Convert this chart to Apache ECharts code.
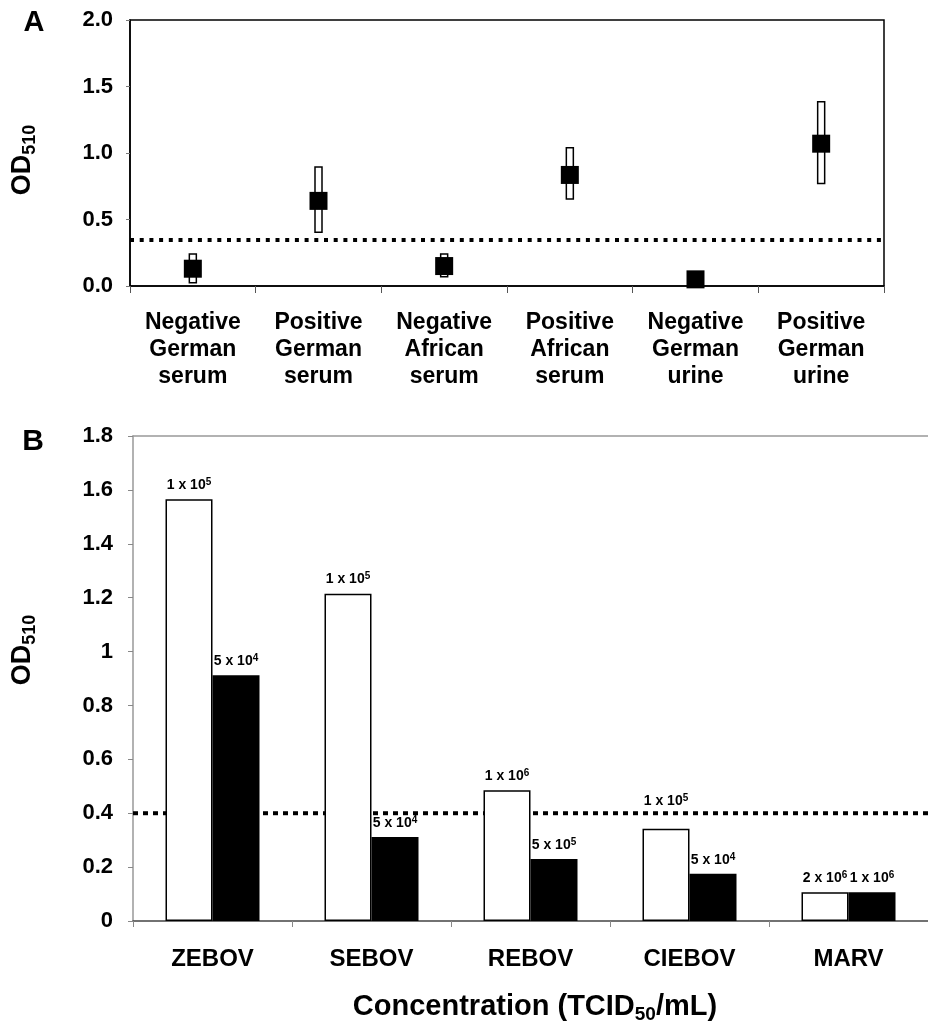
<!DOCTYPE html>
<html>
<head>
<meta charset="utf-8">
<script src="https://cdn.jsdelivr.net/npm/echarts@6/dist/echarts.min.js"></script>
<style>
html,body{margin:0;padding:0;background:#fff;}
#chart{width:928px;height:1028px;}
</style>
</head>
<body>
<div id="chart"></div>
<script>
// ---------- Panel A data ----------
const categoriesA = ['Negative\nGerman\nserum', 'Positive\nGerman\nserum', 'Negative\nAfrican\nserum',
                     'Positive\nAfrican\nserum', 'Negative\nGerman\nurine', 'Positive\nGerman\nurine'];
const meanA = [0.13, 0.64, 0.15, 0.835, 0.05, 1.07];
const lowA  = [0.025, 0.405, 0.07, 0.655, 0.03, 0.77];
const highA = [0.24, 0.895, 0.24, 1.04, 0.07, 1.385];
const cutoffA = 0.345;
const yTicksA = { min: 0, max: 2.0, interval: 0.5 };

// ---------- Panel B data ----------
const categoriesB = ['ZEBOV', 'SEBOV', 'REBOV', 'CIEBOV', 'MARV'];
const highDoseB = [1.565, 1.215, 0.485, 0.342, 0.107];
const lowDoseB  = [0.912, 0.312, 0.230, 0.175, 0.107];
const highDoseLabels = ['1 x 10^5', '1 x 10^5', '1 x 10^6', '1 x 10^5', '2 x 10^6'];
const lowDoseLabels  = ['5 x 10^4', '5 x 10^4', '5 x 10^5', '5 x 10^4', '1 x 10^6'];
const cutoffB = 0.4;
const yTicksB = { min: 0, max: 1.8, interval: 0.2 };

const FONT = '"Liberation Sans", Arial, Helvetica, sans-serif';
const GRID_B_HEIGHT = 485;
const PX_PER_UNIT_B = GRID_B_HEIGHT / (yTicksB.max - yTicksB.min);

function supLabel(arr) {
  return function (p) {
    const s = arr[p.dataIndex];
    const m = s.match(/^(.*)\^(\d+)$/);
    return m ? '{n|' + m[1] + '}{s|' + m[2] + '}' : '{n|' + s + '}';
  };
}
const barLabelRich = {
  n: { fontFamily: FONT, fontWeight: 'bold', fontSize: 14, lineHeight: 16, color: '#000' },
  s: { fontFamily: FONT, fontWeight: 'bold', fontSize: 10, lineHeight: 6, verticalAlign: 'top', color: '#000' }
};
// labels of bars that end just under the cutoff line are lifted above it
function barItems(values) {
  return values.map(v => {
    const d = cutoffB - v;
    if (d > 0 && d < 0.07) {
      return { value: v, label: { distance: d * PX_PER_UNIT_B + 4 } };
    }
    return v;
  });
}

const chart = echarts.init(document.getElementById('chart'), null, { renderer: 'canvas' });

const option = {
  animation: false,
  backgroundColor: '#fff',
  grid: [
    { left: 130, top: 20, width: 754, height: 266, show: true, borderColor: '#000', borderWidth: 1.5, backgroundColor: 'transparent' },
    { left: 133, top: 436, width: 805, height: GRID_B_HEIGHT }
  ],
  xAxis: [
    { // 0: panel A categories
      type: 'category', gridIndex: 0, data: categoriesA,
      axisLine: { lineStyle: { color: '#000', width: 1.5 } },
      axisTick: { show: true, length: 7, lineStyle: { color: '#555', width: 1 } },
      axisLabel: { fontFamily: FONT, fontWeight: 'bold', fontSize: 23, lineHeight: 27, color: '#000', margin: 23, interval: 0 }
    },
    { // 1: panel B categories
      type: 'category', gridIndex: 1, data: categoriesB,
      axisLine: { lineStyle: { color: '#444', width: 1.5 } },
      axisTick: { show: true, length: 6, lineStyle: { color: '#888', width: 1 } },
      axisLabel: { fontFamily: FONT, fontWeight: 'bold', fontSize: 24, lineHeight: 24, color: '#000', margin: 26, interval: 0 }
    },
    { // 2: panel B helper value axis (top frame line)
      type: 'value', gridIndex: 1, position: 'top', min: 0, max: 1,
      axisLine: { show: true, lineStyle: { color: '#999', width: 1.5 } },
      axisTick: { show: false }, axisLabel: { show: false }, splitLine: { show: false }
    },
    { // 3: panel A helper value axis
      type: 'value', gridIndex: 0, position: 'top', min: 0, max: 1, show: false
    }
  ],
  yAxis: [
    {
      type: 'value', gridIndex: 0, min: yTicksA.min, max: yTicksA.max, interval: yTicksA.interval,
      axisLine: { show: true, lineStyle: { color: '#000', width: 1.5 } },
      axisTick: { show: true, length: 4, lineStyle: { color: '#777' } },
      splitLine: { show: false },
      axisLabel: { fontFamily: FONT, fontWeight: 'bold', fontSize: 22, color: '#000', margin: 17,
                   formatter: v => v.toFixed(1) }
    },
    {
      type: 'value', gridIndex: 1, min: yTicksB.min, max: yTicksB.max, interval: yTicksB.interval,
      axisLine: { show: true, lineStyle: { color: '#999', width: 1.5 } },
      axisTick: { show: true, length: 5, lineStyle: { color: '#888' } },
      splitLine: { show: false },
      axisLabel: { fontFamily: FONT, fontWeight: 'bold', fontSize: 22, color: '#000', margin: 20 }
    }
  ],
  series: [
    { // cutoff A
      type: 'line', xAxisIndex: 3, yAxisIndex: 0, z: 1, silent: true, symbol: 'none',
      data: [[0, cutoffA], [1, cutoffA]],
      lineStyle: { color: '#000', width: 4, type: [4, 5.7] }
    },
    { // error ranges A
      type: 'custom', xAxisIndex: 0, yAxisIndex: 0, z: 2, silent: true,
      data: lowA.map((l, i) => [i, l, highA[i]]),
      renderItem: function (params, api) {
        const lo = api.coord([api.value(0), api.value(1)]);
        const hi = api.coord([api.value(0), api.value(2)]);
        return {
          type: 'rect',
          shape: { x: lo[0] - 3.5, y: hi[1], width: 7, height: lo[1] - hi[1] },
          style: { fill: '#fff', stroke: '#000', lineWidth: 1.5 }
        };
      }
    },
    { // means A
      type: 'scatter', xAxisIndex: 0, yAxisIndex: 0, z: 3, silent: true,
      data: meanA, symbol: 'rect', symbolSize: [18, 18],
      itemStyle: { color: '#000', opacity: 1 }
    },
    { // cutoff B (behind bars)
      type: 'line', xAxisIndex: 2, yAxisIndex: 1, z: 1, silent: true, symbol: 'none',
      data: [[0, cutoffB], [1, cutoffB]],
      lineStyle: { color: '#000', width: 4, type: [5, 5] }
    },
    { // high dose bars
      type: 'bar', xAxisIndex: 1, yAxisIndex: 1, z: 2, data: barItems(highDoseB),
      barWidth: 47, barGap: '0%',
      itemStyle: { color: '#fff', borderColor: '#000', borderWidth: 1.5 },
      label: { show: true, position: 'top', distance: 6, formatter: supLabel(highDoseLabels), rich: barLabelRich }
    },
    { // low dose bars
      type: 'bar', xAxisIndex: 1, yAxisIndex: 1, z: 2, data: barItems(lowDoseB),
      barWidth: 47, barGap: '0%',
      itemStyle: { color: '#000', borderColor: '#000', borderWidth: 1.5 },
      label: { show: true, position: 'top', distance: 6, formatter: supLabel(lowDoseLabels), rich: barLabelRich }
    }
  ],
  graphic: [
    { type: 'text', x: 34, y: 23, style: { text: 'A', fontFamily: FONT, fontWeight: 'bold', fontSize: 29, fill: '#000', align: 'center', verticalAlign: 'middle' } },
    { type: 'text', x: 33, y: 442, style: { text: 'B', fontFamily: FONT, fontWeight: 'bold', fontSize: 30, fill: '#000', align: 'center', verticalAlign: 'middle' } },
    { type: 'text', x: 23, y: 160, rotation: Math.PI / 2,
      style: { text: '{a|OD}{b|510}', align: 'center', verticalAlign: 'middle', fill: '#000',
        rich: { a: { fontFamily: FONT, fontWeight: 'bold', fontSize: 27, lineHeight: 32, fill: '#000' },
                b: { fontFamily: FONT, fontWeight: 'bold', fontSize: 18, lineHeight: 6, verticalAlign: 'bottom', fill: '#000' } } } },
    { type: 'text', x: 23, y: 650, rotation: Math.PI / 2,
      style: { text: '{a|OD}{b|510}', align: 'center', verticalAlign: 'middle', fill: '#000',
        rich: { a: { fontFamily: FONT, fontWeight: 'bold', fontSize: 27, lineHeight: 32, fill: '#000' },
                b: { fontFamily: FONT, fontWeight: 'bold', fontSize: 18, lineHeight: 6, verticalAlign: 'bottom', fill: '#000' } } } },
    { type: 'text', x: 535, y: 1007,
      style: { text: '{a|Concentration (TCID}{b|50}{a|/mL)}', align: 'center', verticalAlign: 'middle', fill: '#000',
        rich: { a: { fontFamily: FONT, fontWeight: 'bold', fontSize: 29, lineHeight: 34, fill: '#000' },
                b: { fontFamily: FONT, fontWeight: 'bold', fontSize: 19, lineHeight: 10, verticalAlign: 'bottom', fill: '#000' } } } }
  ]
};
chart.setOption(option);
</script>
</body>
</html>
